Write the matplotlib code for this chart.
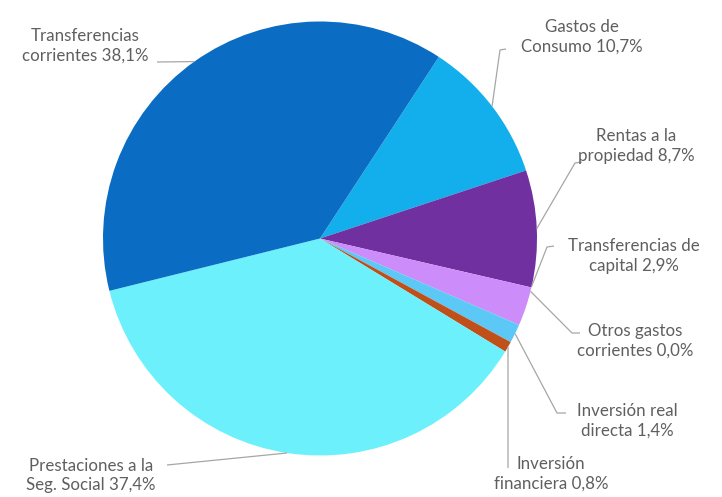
import numpy as np
import matplotlib
matplotlib.use("Agg")
import matplotlib.pyplot as plt

# ---- data ----
categories = ["Gastos de\nConsumo", "Rentas a la\npropiedad", "Transferencias de\ncapital",
              "Otros gastos\ncorrientes", "Inversión real\ndirecta", "Inversión\nfinanciera",
              "Prestaciones a la\nSeg. Social", "Transferencias\ncorrientes"]
values = [10.7, 8.7, 2.9, 0.0, 1.4, 0.8, 37.4, 38.1]

# ---- style ----
colors = ["#12AFEC", "#7030A0", "#CC8CFA", "#9FD5F5", "#5BC8F5", "#C0501A", "#6CF0FC", "#0A6CC2"]
W, H = 722, 497
cx, cy, R = 320, H - 238.5, 217
start = 56.8

# label placement (pixel coords, y from top): text centre, elbow point, end point near text
text_pos = [(582, 36.5), (636, 146), (634, 256), (635, 340.5), (627, 420.5), (551, 473.5), (91, 475.5), (85, 45.5)]
elbow = [(500, 50), (575, 163), (547, 247), (572, 333), (557, 413), (508, 468), None, None]
endpt = [(506, 49), (582, 162), (554, 246), (580, 333), (566, 413), (508, 468), (167, 465), (157, 62)]
anchor_offset = [0, 0, 5.5, 9.4, 0, 0, 0, 0]

fig = plt.figure(figsize=(W / 100, H / 100), dpi=100)
ax = fig.add_axes([0, 0, 1, 1])
ax.pie(values, colors=colors, startangle=start, counterclock=False, radius=R,
       center=(cx, cy), wedgeprops=dict(linewidth=0))
ax.set_xlim(0, W)
ax.set_ylim(0, H)
ax.set_aspect("equal")
ax.axis("off")

total = sum(values)
cum = 0.0
for i, (cat, v) in enumerate(zip(categories, values)):
    t1 = start - cum / total * 360
    t2 = t1 - v / total * 360
    cum += v
    mid = np.deg2rad((t1 + t2) / 2 + anchor_offset[i])
    px, py = cx + R * np.cos(mid), cy + R * np.sin(mid)
    pts = [(px, py)]
    if elbow[i] is not None:
        pts.append((elbow[i][0], H - elbow[i][1]))
    pts.append((endpt[i][0], H - endpt[i][1]))
    xs, ys = zip(*pts)
    ax.plot(xs, ys, color="#A6A6A6", lw=0.9, solid_capstyle="butt")
    num = f"{v:.1f}".replace(".", ",")
    label = f"{cat} {num}%"
    tx, ty = text_pos[i]
    ax.text(tx, H - ty, label, ha="center", va="center", multialignment="center",
            fontsize=12.2, color="#5F5F5F", family=["Lato", "DejaVu Sans"], linespacing=1.3)

fig.savefig("out.png", dpi=100)
